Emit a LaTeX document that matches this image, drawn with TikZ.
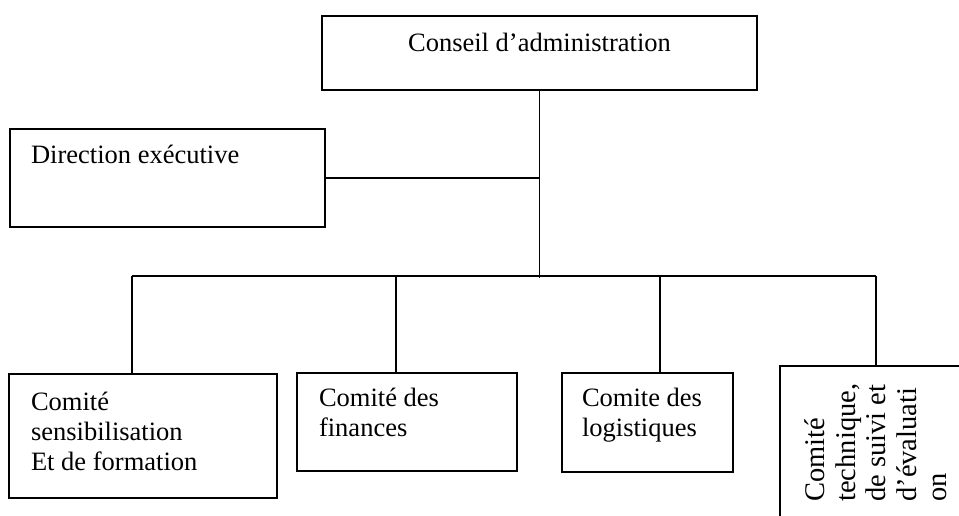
\documentclass[tikz,border=0pt]{standalone}
\usepackage{fontspec}
\setmainfont{Liberation Serif}
\newcommand{\boxfont}{\fontsize{26.5}{30}\selectfont}
\newcommand{\techfont}{\fontsize{28.5}{30.5}\selectfont}
\tikzset{
    orgbox/.style={rectangle, draw, line width=2.3pt, inner sep=0pt},
    orgtext/.style={font=\boxfont, align=left, inner sep=0pt, anchor=base west},
    link/.style={line width=1.8pt},
}

\begin{document}
\begin{tikzpicture}[x=1pt, y=-1pt]
\useasboundingbox (0,0) rectangle (959,516);
\clip (0,0) rectangle (959,516);

% ── Boxes ──
\node[orgbox, minimum width=435, minimum height=74] (council) at (539.5,53) {};
\node[orgbox, minimum width=315, minimum height=98] (direction) at (167.5,178) {};
\node[orgbox, minimum width=268, minimum height=124] (sens) at (143,436) {};
\node[orgbox, minimum width=220, minimum height=98] (fin) at (407,422) {};
\node[orgbox, minimum width=171, minimum height=99] (logi) at (647.5,422.5) {};
\node[orgbox, minimum width=220, minimum height=194] (tech) at (890,463) {};

% ── Texts (base = last line) ──
\node[orgtext, anchor=base] (councillbl) at ([shift={(0,37)}]council.north) {Conseil d’administration};
\node[orgtext] (directionlbl) at ([shift={(22,36)}]direction.north west) {Direction exécutive};
\node[orgtext] (senslbl) at ([shift={(23,98)}]sens.north west) {Comité\\sensibilisation\\Et de formation};
\node[orgtext] (finlbl) at ([shift={(23,65)}]fin.north west) {Comité des\\finances};
\node[orgtext] (logilbl) at ([shift={(21,65)}]logi.north west) {Comite des\\logistiques};
\node[orgtext, font=\techfont, rotate=90] (techlbl) at ([shift={(168,137)}]tech.north west) {Comité\\technique,\\de suivi et\\d’évaluati\\on};

% ── Bus ──
\coordinate (d1) at (132,276);
\coordinate (d2) at (396,276);
\coordinate (d3) at (660,276);
\coordinate (d4) at (876,276);

% ── Connectors ──
\draw[link] (council.south) -- ([yshift=-2pt]council.south |- d1);
\draw[link] (direction.east) -- (direction.east -| council.south);
\draw[link] (d1) -- (d4);
\foreach \d/\n in {d1/sens, d2/fin, d3/logi, d4/tech}
    \draw[link] (\d) -- (\d |- \n.north);

\end{tikzpicture}
\end{document}
